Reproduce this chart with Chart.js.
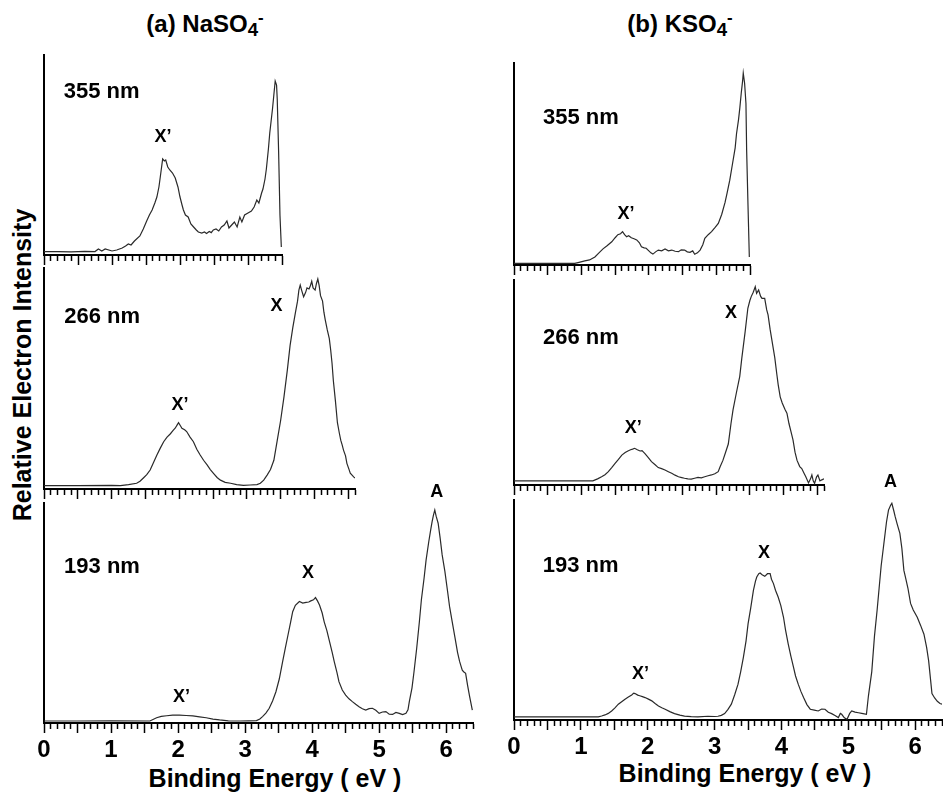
<!DOCTYPE html>
<html>
<head>
<meta charset="utf-8">
<title>NaSO4- / KSO4- photoelectron spectra</title>
<script src="https://cdn.jsdelivr.net/npm/chart.js@4.4.0/dist/chart.umd.min.js"></script>
<style>
  html, body { margin: 0; padding: 0; background: #fff; overflow: hidden; }
  #fig { position: relative; width: 943px; height: 792px; overflow: hidden;
         font-family: "Liberation Sans", Arial, sans-serif; font-weight: bold; color: #000; }
  #fig canvas { position: absolute; }
  .lbl { position: absolute; white-space: nowrap; line-height: 1; transform: translate(-50%, -50%); }
  .lbl sub { font-size: 0.78em; line-height: 0; vertical-align: -0.2em; }
  .lbl sup { font-size: 0.7em; line-height: 0; vertical-align: 0.55em; }
</style>
</head>
<body>
<div id="fig">
  <div class="lbl" style="left:205px;top:24px;font-size:24px">(a) NaSO<sub>4</sub><sup>-</sup></div>
  <div class="lbl" style="left:680px;top:24px;font-size:24px">(b) KSO<sub>4</sub><sup>-</sup></div>
  <div class="lbl" style="left:22px;top:365px;font-size:25px;transform:translate(-50%,-50%) rotate(-90deg)">Relative Electron Intensity</div>
  <div class="lbl" style="left:275px;top:778px;font-size:25px">Binding Energy ( eV )</div>
  <div class="lbl" style="left:745px;top:773px;font-size:25px">Binding Energy ( eV )</div>
  <canvas id="c1"></canvas>
  <canvas id="c2"></canvas>
  <canvas id="c3"></canvas>
  <canvas id="c4"></canvas>
  <canvas id="c5"></canvas>
  <canvas id="c6"></canvas>
</div>
<script>
// tick labels on the bottom axes
var tickLabels = ['0', '1', '2', '3', '4', '5', '6'];

// spectra: [binding energy (eV), relative intensity]
var naso4_355nm = [[0,0.017],[0.2,0.017],[0.4,0.016],[0.6,0.018],[0.75,0.017],[0.8,0.03],[0.85,0.02],[0.9,0.03],[1.0,0.02],[1.07,0.025],[1.15,0.035],[1.2,0.045],[1.24,0.055],[1.28,0.05],[1.33,0.07],[1.41,0.095],[1.46,0.13],[1.51,0.17],[1.55,0.2],[1.59,0.225],[1.63,0.26],[1.66,0.29],[1.69,0.34],[1.71,0.39],[1.745,0.48],[1.77,0.47],[1.79,0.475],[1.82,0.44],[1.85,0.425],[1.89,0.41],[1.93,0.385],[1.97,0.34],[2.0,0.29],[2.03,0.25],[2.05,0.225],[2.08,0.2],[2.12,0.19],[2.16,0.155],[2.2,0.14],[2.24,0.125],[2.27,0.115],[2.32,0.11],[2.36,0.115],[2.39,0.108],[2.43,0.118],[2.46,0.112],[2.49,0.125],[2.53,0.13],[2.57,0.12],[2.61,0.14],[2.65,0.15],[2.69,0.17],[2.72,0.135],[2.76,0.15],[2.8,0.165],[2.84,0.14],[2.88,0.19],[2.91,0.165],[2.95,0.2],[3.0,0.21],[3.05,0.22],[3.09,0.24],[3.13,0.275],[3.16,0.26],[3.2,0.31],[3.22,0.33],[3.25,0.38],[3.27,0.43],[3.3,0.53],[3.32,0.61],[3.34,0.67],[3.36,0.73],[3.38,0.8],[3.4,0.87],[3.42,0.85],[3.43,0.78],[3.45,0.52],[3.47,0.2],[3.49,0.04]];
var naso4_266nm = [[0,0.015],[0.5,0.015],[1.0,0.016],[1.13,0.015],[1.25,0.02],[1.37,0.026],[1.42,0.035],[1.47,0.05],[1.52,0.065],[1.57,0.086],[1.62,0.12],[1.67,0.154],[1.72,0.185],[1.77,0.214],[1.82,0.235],[1.87,0.25],[1.91,0.265],[1.94,0.275],[1.97,0.29],[1.99,0.3],[2.02,0.285],[2.04,0.275],[2.08,0.268],[2.11,0.26],[2.16,0.235],[2.21,0.214],[2.26,0.18],[2.31,0.154],[2.36,0.13],[2.41,0.11],[2.46,0.088],[2.51,0.07],[2.56,0.052],[2.61,0.04],[2.68,0.03],[2.76,0.026],[2.85,0.02],[2.95,0.016],[3.05,0.018],[3.15,0.02],[3.2,0.026],[3.25,0.04],[3.3,0.063],[3.35,0.088],[3.4,0.13],[3.45,0.22],[3.5,0.31],[3.55,0.418],[3.6,0.54],[3.64,0.65],[3.68,0.73],[3.72,0.8],[3.75,0.85],[3.77,0.9],[3.79,0.923],[3.81,0.9],[3.84,0.87],[3.87,0.89],[3.89,0.91],[3.92,0.905],[3.94,0.92],[3.96,0.94],[3.98,0.91],[4.01,0.9],[4.03,0.93],[4.05,0.95],[4.07,0.92],[4.09,0.875],[4.12,0.85],[4.14,0.8],[4.16,0.765],[4.19,0.72],[4.22,0.68],[4.24,0.63],[4.26,0.57],[4.28,0.49],[4.31,0.4],[4.34,0.3],[4.37,0.25],[4.39,0.22],[4.41,0.2],[4.43,0.176],[4.46,0.15],[4.48,0.116],[4.51,0.09],[4.53,0.072],[4.56,0.062],[4.58,0.055],[4.6,0.05]];
var naso4_193nm = [[0,0.009],[0.5,0.009],[1.0,0.01],[1.58,0.009],[1.68,0.024],[1.75,0.03],[1.83,0.033],[1.92,0.036],[2.02,0.036],[2.12,0.034],[2.22,0.032],[2.32,0.028],[2.42,0.024],[2.52,0.018],[2.62,0.014],[2.75,0.01],[2.92,0.009],[3.05,0.01],[3.17,0.011],[3.22,0.018],[3.26,0.029],[3.31,0.045],[3.36,0.067],[3.41,0.1],[3.46,0.142],[3.51,0.2],[3.56,0.279],[3.6,0.34],[3.64,0.4],[3.68,0.46],[3.71,0.506],[3.75,0.535],[3.81,0.552],[3.86,0.545],[3.91,0.548],[3.95,0.55],[3.98,0.555],[4.02,0.56],[4.05,0.57],[4.08,0.555],[4.11,0.536],[4.15,0.5],[4.18,0.46],[4.22,0.42],[4.26,0.37],[4.3,0.32],[4.33,0.279],[4.37,0.23],[4.4,0.188],[4.45,0.15],[4.5,0.127],[4.55,0.11],[4.6,0.097],[4.65,0.085],[4.7,0.074],[4.75,0.065],[4.8,0.059],[4.85,0.065],[4.9,0.067],[4.95,0.058],[5.0,0.044],[5.05,0.05],[5.1,0.052],[5.15,0.04],[5.2,0.039],[5.25,0.048],[5.3,0.044],[5.35,0.038],[5.4,0.044],[5.43,0.06],[5.45,0.097],[5.49,0.16],[5.52,0.233],[5.56,0.34],[5.6,0.46],[5.63,0.56],[5.67,0.658],[5.7,0.74],[5.74,0.824],[5.77,0.88],[5.79,0.915],[5.81,0.945],[5.83,0.968],[5.85,0.94],[5.88,0.908],[5.91,0.84],[5.94,0.764],[5.98,0.69],[6.02,0.6],[6.05,0.53],[6.09,0.46],[6.13,0.39],[6.17,0.32],[6.2,0.28],[6.22,0.26],[6.24,0.24],[6.26,0.233],[6.29,0.226],[6.32,0.17],[6.35,0.12],[6.39,0.059]];
var kso4_355nm = [[0,0.008],[0.5,0.008],[0.9,0.008],[0.95,0.012],[1.05,0.02],[1.12,0.025],[1.2,0.04],[1.26,0.06],[1.32,0.08],[1.38,0.095],[1.45,0.115],[1.5,0.135],[1.54,0.15],[1.58,0.155],[1.61,0.165],[1.64,0.15],[1.67,0.14],[1.7,0.145],[1.74,0.135],[1.78,0.13],[1.82,0.124],[1.86,0.11],[1.89,0.09],[1.93,0.085],[1.96,0.083],[2.0,0.07],[2.03,0.06],[2.06,0.054],[2.1,0.065],[2.14,0.074],[2.19,0.07],[2.24,0.079],[2.29,0.07],[2.34,0.074],[2.39,0.068],[2.44,0.066],[2.48,0.075],[2.53,0.074],[2.57,0.065],[2.61,0.063],[2.65,0.07],[2.68,0.053],[2.72,0.06],[2.76,0.074],[2.8,0.1],[2.83,0.132],[2.88,0.15],[2.93,0.165],[2.98,0.185],[3.03,0.206],[3.08,0.25],[3.13,0.31],[3.16,0.356],[3.2,0.42],[3.24,0.5],[3.28,0.58],[3.3,0.65],[3.33,0.72],[3.35,0.78],[3.37,0.85],[3.39,0.91],[3.4,0.95],[3.42,0.9],[3.44,0.8],[3.45,0.57],[3.47,0.3],[3.49,0.04]];
var kso4_266nm = [[0,0.02],[0.5,0.02],[1.17,0.02],[1.24,0.03],[1.3,0.04],[1.35,0.05],[1.4,0.065],[1.45,0.085],[1.5,0.106],[1.55,0.125],[1.6,0.146],[1.65,0.158],[1.69,0.166],[1.73,0.172],[1.76,0.175],[1.79,0.179],[1.83,0.172],[1.87,0.166],[1.9,0.168],[1.94,0.154],[1.99,0.135],[2.04,0.114],[2.09,0.1],[2.14,0.085],[2.19,0.08],[2.24,0.073],[2.29,0.065],[2.34,0.057],[2.39,0.048],[2.44,0.04],[2.49,0.036],[2.53,0.033],[2.58,0.03],[2.63,0.029],[2.68,0.033],[2.73,0.037],[2.78,0.035],[2.83,0.04],[2.88,0.045],[2.93,0.049],[2.98,0.055],[3.03,0.065],[3.06,0.09],[3.1,0.12],[3.14,0.16],[3.18,0.2],[3.22,0.3],[3.25,0.366],[3.3,0.45],[3.35,0.53],[3.38,0.618],[3.43,0.748],[3.47,0.862],[3.5,0.9],[3.52,0.919],[3.55,0.94],[3.58,0.967],[3.6,0.935],[3.63,0.951],[3.66,0.92],[3.68,0.91],[3.72,0.91],[3.75,0.854],[3.77,0.83],[3.8,0.76],[3.82,0.72],[3.85,0.66],[3.87,0.62],[3.9,0.54],[3.92,0.49],[3.95,0.43],[3.98,0.4],[4.02,0.37],[4.05,0.35],[4.08,0.3],[4.11,0.26],[4.14,0.22],[4.17,0.16],[4.2,0.12],[4.24,0.09],[4.27,0.08],[4.3,0.06],[4.33,0.04],[4.37,0.01],[4.4,0.03],[4.42,0.049],[4.44,0.02],[4.46,0.008],[4.49,0.04],[4.51,0.049],[4.54,0.02],[4.56,0.024],[4.6,0.03]];
var kso4_193nm = [[0,0.014],[0.5,0.014],[1.26,0.014],[1.31,0.018],[1.36,0.023],[1.41,0.03],[1.46,0.041],[1.51,0.055],[1.56,0.072],[1.61,0.083],[1.66,0.094],[1.71,0.104],[1.76,0.114],[1.79,0.122],[1.81,0.12],[1.85,0.113],[1.88,0.11],[1.92,0.106],[1.96,0.102],[2.01,0.095],[2.06,0.087],[2.11,0.075],[2.16,0.064],[2.21,0.056],[2.26,0.049],[2.33,0.038],[2.4,0.029],[2.48,0.022],[2.55,0.018],[2.65,0.015],[2.75,0.014],[2.9,0.017],[3.0,0.016],[3.05,0.017],[3.1,0.021],[3.15,0.029],[3.2,0.048],[3.25,0.072],[3.3,0.115],[3.35,0.163],[3.39,0.22],[3.43,0.285],[3.47,0.36],[3.5,0.437],[3.54,0.51],[3.58,0.589],[3.61,0.63],[3.63,0.65],[3.66,0.665],[3.68,0.668],[3.71,0.66],[3.75,0.653],[3.79,0.665],[3.83,0.665],[3.85,0.64],[3.88,0.62],[3.91,0.59],[3.95,0.559],[3.99,0.52],[4.03,0.467],[4.06,0.41],[4.1,0.346],[4.14,0.29],[4.18,0.239],[4.21,0.2],[4.25,0.163],[4.29,0.13],[4.33,0.102],[4.38,0.07],[4.43,0.049],[4.49,0.045],[4.55,0.041],[4.6,0.05],[4.65,0.049],[4.7,0.035],[4.75,0.029],[4.8,0.02],[4.85,0.011],[4.88,0.03],[4.9,0.026],[4.94,0.01],[4.98,0.003],[5.02,0.03],[5.05,0.041],[5.1,0.036],[5.15,0.033],[5.2,0.03],[5.27,0.026],[5.3,0.11],[5.35,0.22],[5.39,0.38],[5.43,0.5],[5.46,0.6],[5.49,0.7],[5.53,0.8],[5.57,0.9],[5.6,0.954],[5.63,0.975],[5.65,0.985],[5.68,0.95],[5.7,0.924],[5.73,0.89],[5.77,0.848],[5.8,0.78],[5.83,0.68],[5.86,0.64],[5.89,0.6],[5.93,0.53],[5.97,0.5],[6.03,0.467],[6.08,0.43],[6.13,0.39],[6.17,0.33],[6.2,0.27],[6.23,0.18],[6.25,0.12],[6.29,0.1],[6.33,0.085],[6.37,0.075],[6.4,0.072]];

// text marks inside each panel: [text, eV, intensity]
var naso4_355nmNotes = [['355 nm', 0.29, 0.815], ['X\u2019', 1.75, 0.59]];
var naso4_266nmNotes = [['266 nm', 0.3, 0.78], ['X\u2019', 2.01, 0.38], ['X', 3.44, 0.83]];
var naso4_193nmNotes = [['193 nm', 0.3, 0.71], ['X\u2019', 2.05, 0.12], ['X', 3.94, 0.68], ['A', 5.86, 1.05]];
var kso4_355nmNotes = [['355 nm', 0.43, 0.73], ['X\u2019', 1.66, 0.25]];
var kso4_266nmNotes = [['266 nm', 0.43, 0.717], ['X\u2019', 1.77, 0.278], ['X', 3.22, 0.84]];
var kso4_193nmNotes = [['193 nm', 0.43, 0.7], ['X\u2019', 1.89, 0.21], ['X', 3.74, 0.76], ['A', 5.63, 1.08]];

var FONT = '"Liberation Sans", Arial, sans-serif';

// panel placement on the page: box = [left, top, right, bottom] of the plot area
var panels = [
    {id: 'c1', data: naso4_355nm, notes: naso4_355nmNotes, max: 3.5, box: [44, 55, 282, 255], bottom: false},
    {id: 'c2', data: naso4_266nm, notes: naso4_266nmNotes, max: 4.6, box: [44, 268, 355, 489], bottom: false},
    {id: 'c3', data: naso4_193nm, notes: naso4_193nmNotes, max: 6.4, box: [44, 503, 473, 723], bottom: true},
    {id: 'c4', data: kso4_355nm, notes: kso4_355nmNotes, max: 3.5, box: [514, 63, 750, 265], bottom: false},
    {id: 'c5', data: kso4_266nm, notes: kso4_266nmNotes, max: 4.6, box: [514, 280, 824, 485], bottom: false},
    {id: 'c6', data: kso4_193nm, notes: kso4_193nmNotes, max: 6.4, box: [514, 500, 942, 720], bottom: true}
];

function isHalf(v) {
    return Math.abs(v * 2 - Math.round(v * 2)) < 1e-6;
}

// draws the "355 nm", X', X, A marks at data coordinates
function notesPlugin(items) {
    return {
        id: 'notes',
        afterDatasetsDraw: function (chart) {
            var ctx = chart.ctx, xs = chart.scales.x, ys = chart.scales.y;
            ctx.save();
            ctx.fillStyle = '#000';
            ctx.textBaseline = 'middle';
            items.forEach(function (n) {
                var big = n[0].indexOf('nm') > 0;
                ctx.font = 'bold ' + (big ? 22 : 18) + 'px ' + FONT;
                ctx.textAlign = big ? 'left' : 'center';
                ctx.fillText(n[0], xs.getPixelForValue(n[1]), ys.getPixelForValue(n[2]));
            });
            ctx.restore();
        }
    };
}

panels.forEach(function (p) {
    var padL = 12, padR = 12, padT = 32;
    var axisH = p.bottom ? 44 : 10;
    var cv = document.getElementById(p.id);
    var w = p.box[2] - p.box[0] + padL + padR;
    var h = p.box[3] - p.box[1] + padT + axisH;
    cv.width = w; cv.height = h;
    cv.style.width = w + 'px'; cv.style.height = h + 'px';
    cv.style.left = (p.box[0] - padL) + 'px';
    cv.style.top = (p.box[1] - padT) + 'px';

    new Chart(cv.getContext('2d'), {
        type: 'line',
        data: {
            datasets: [{
                data: p.data.map(function (d) { return {x: d[0], y: d[1]}; }),
                borderColor: '#2a2a2a',
                borderWidth: 1.2,
                pointRadius: 0,
                tension: 0,
                fill: false
            }]
        },
        options: {
            responsive: false,
            animation: false,
            events: [],
            layout: {padding: {left: padL, right: padR, top: padT, bottom: 0}},
            plugins: {legend: {display: false}, tooltip: {enabled: false}},
            scales: {
                x: {
                    type: 'linear',
                    min: 0,
                    max: p.max,
                    afterFit: function (s) { s.height = axisH; },
                    border: {display: true, color: '#000', width: 2},
                    grid: {
                        display: true,
                        drawOnChartArea: false,
                        drawTicks: true,
                        tickLength: 10,
                        tickWidth: 1.5,
                        tickColor: '#000',
                        // short marks every 0.1 eV, long ones every 0.5 eV
                        tickBorderDash: function (c) { return isHalf(c.tick.value) ? [] : [5, 40]; }
                    },
                    ticks: {
                        display: p.bottom,
                        stepSize: 0.1,
                        autoSkip: false,
                        maxRotation: 0,
                        includeBounds: false,
                        padding: 3,
                        color: '#000',
                        font: {family: FONT, size: 24, weight: 'bold'},
                        callback: function (v) {
                            return Math.abs(v - Math.round(v)) < 1e-6 ? tickLabels[Math.round(v)] : '';
                        }
                    }
                },
                y: {
                    min: 0,
                    max: 1,
                    afterFit: function (s) { s.width = 0; },
                    border: {display: true, color: '#000', width: 2},
                    grid: {display: false, drawTicks: false},
                    ticks: {display: false}
                }
            }
        },
        plugins: [notesPlugin(p.notes)]
    });
});
</script>
</body>
</html>
